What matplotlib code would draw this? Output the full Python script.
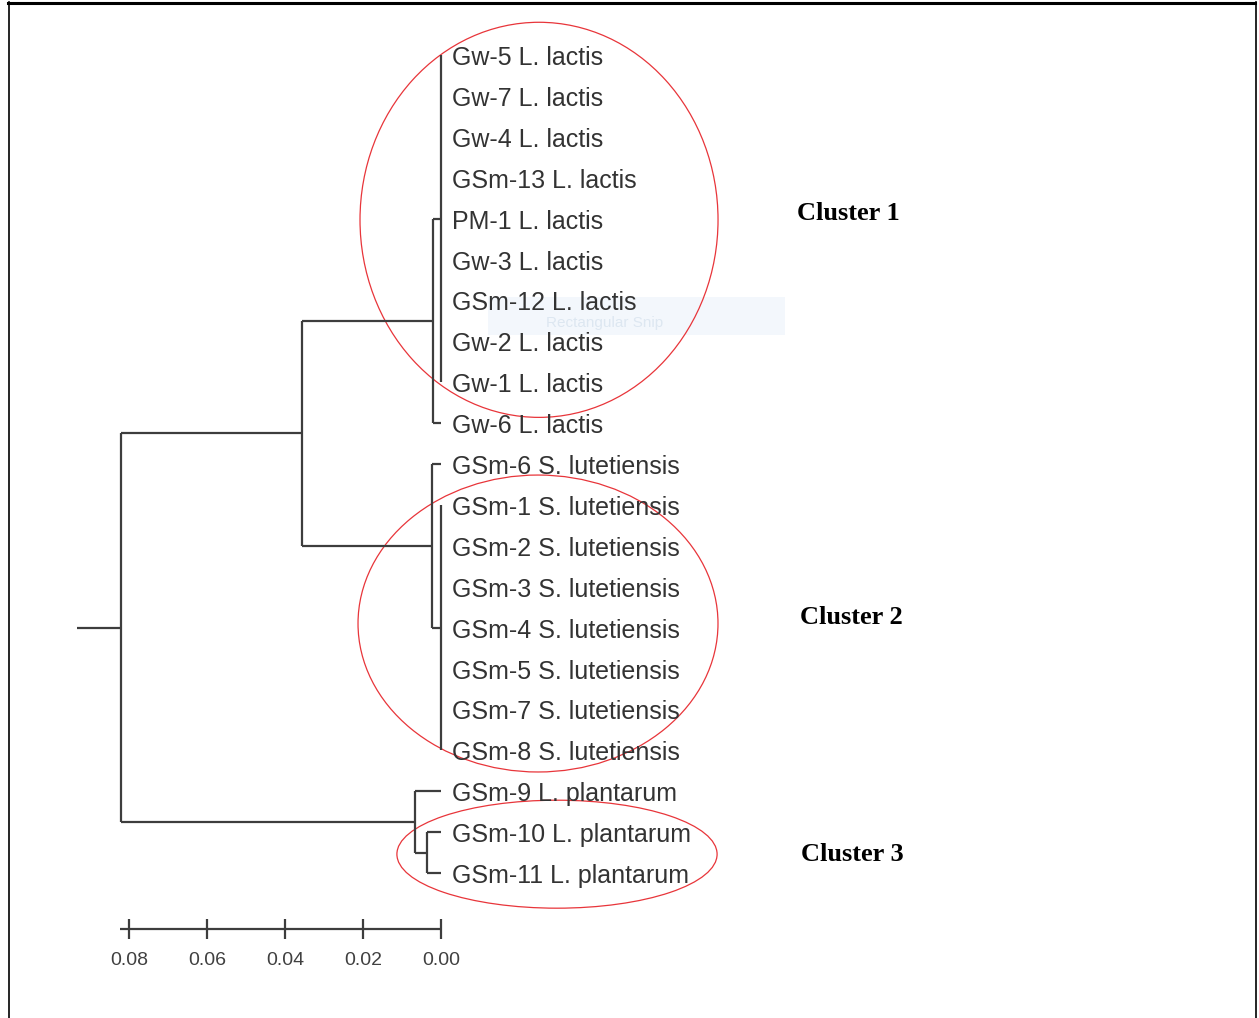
import matplotlib
matplotlib.use("Agg")
import matplotlib.pyplot as plt
from matplotlib.patches import Ellipse, Rectangle
from matplotlib import font_manager

# ---------------- data ----------------
leaf_labels = [
    "Gw-5 L. lactis", "Gw-7 L. lactis", "Gw-4 L. lactis", "GSm-13 L. lactis",
    "PM-1 L. lactis", "Gw-3 L. lactis", "GSm-12 L. lactis", "Gw-2 L. lactis",
    "Gw-1 L. lactis", "Gw-6 L. lactis",
    "GSm-6 S. lutetiensis", "GSm-1 S. lutetiensis", "GSm-2 S. lutetiensis",
    "GSm-3 S. lutetiensis", "GSm-4 S. lutetiensis", "GSm-5 S. lutetiensis",
    "GSm-7 S. lutetiensis", "GSm-8 S. lutetiensis",
    "GSm-9 L. plantarum", "GSm-10 L. plantarum", "GSm-11 L. plantarum",
]
n_leaves = len(leaf_labels)
# internal nodes: children (leaf index < 21, else node 21+k), merge height
merge_children = [
    [0, 1, 2, 3, 4, 5, 6, 7, 8],      # node 21
    [21, 9],                          # node 22
    [11, 12, 13, 14, 15, 16, 17],     # node 23
    [10, 23],                         # node 24
    [22, 24],                         # node 25
    [19, 20],                         # node 26
    [18, 26],                         # node 27
    [25, 27],                         # node 28 (root)
]
merge_heights = [0.0, 0.0021, 0.0, 0.0023, 0.0356, 0.0036, 0.0067, 0.0821]
root_stub = 0.0933
scale_ticks = [0.08, 0.06, 0.04, 0.02, 0.00]
scale_tick_labels = ["0.08", "0.06", "0.04", "0.02", "0.00"]
cluster_names = ["Cluster 1", "Cluster 2", "Cluster 3"]
cluster_label_pos = [(-0.0913, 3.87), (-0.0920, 13.76), (-0.0923, 19.55)]

# ---------------- figure ----------------
W, H = 1259, 1018
fig = plt.figure(figsize=(W / 100, H / 100), dpi=100)
ax = fig.add_axes([0, 0, 1, 1])
ax.set_xlim(0.11308, -0.20974)
ax.set_ylim(23.545, -1.3447)
ax.axis("off")

line_kw = dict(color="#3d3d3d", lw=1.6, solid_capstyle="butt")

# compute node positions
pos_y = {i: float(i) for i in range(n_leaves)}
pos_x = {i: 0.0 for i in range(n_leaves)}
for k, (ch, h) in enumerate(zip(merge_children, merge_heights)):
    nid = n_leaves + k
    ys = [pos_y[c] for c in ch]
    for c in ch:
        if pos_x[c] != h:
            ax.plot([pos_x[c], h], [pos_y[c], pos_y[c]], **line_kw)
    ax.plot([h, h], [min(ys), max(ys)], **line_kw)
    pos_y[nid] = (min(ys) + max(ys)) / 2
    pos_x[nid] = h
root = n_leaves + len(merge_children) - 1
ax.plot([pos_x[root], root_stub], [pos_y[root], pos_y[root]], **line_kw)

# leaf labels
for i, lab in enumerate(leaf_labels):
    ax.annotate(lab, (0, i), xytext=(11, -3), textcoords="offset pixels",
                ha="left", va="center", fontsize=18, color="#333333",
                family="Liberation Sans")

# faint snipping tool ghost
ax.add_patch(Rectangle((-0.0121, 5.92), -0.0761, 0.93, facecolor="#eef4fb",
                       edgecolor="none", alpha=0.7, zorder=0))
ax.text(-0.0268, 6.55, "Rectangular Snip", fontsize=11,
        color="#dde7f1", ha="left", va="center", family="Liberation Sans", zorder=0.5)

# ellipses
ell = [(-0.02513, 4.03, 0.0918, 9.66), (-0.02487, 13.90, 0.0923, 7.26),
       (-0.02974, 19.54, 0.0821, 2.64)]
for cx, cy, w, h in ell:
    ax.add_patch(Ellipse((cx, cy), w, h, fill=False, edgecolor="#e8353a", lw=0.9))

# cluster labels
for name, (x, y) in zip(cluster_names, cluster_label_pos):
    ax.text(x, y, name, fontsize=19, fontweight="bold", family="Liberation Serif",
            ha="left", va="center", color="black")

# scale bar
names = {f.name for f in font_manager.fontManager.ttflist}
tick_family = "Liberation Sans Narrow" if "Liberation Sans Narrow" in names else "Liberation Sans"
tick_size = 16 if tick_family == "Liberation Sans Narrow" else 14
sb_y = 21.37
ax.plot([0.0823, 0.0], [sb_y, sb_y], **line_kw)
for t, tl in zip(scale_ticks, scale_tick_labels):
    ax.plot([t, t], [sb_y - 0.245, sb_y + 0.245], **line_kw)
    ax.text(t, 22.13, tl, ha="center", va="center", fontsize=tick_size,
            color="#404040", family=tick_family)

# frame
fig.add_artist(plt.Line2D([8 / W, 1255 / W], [1 - 2.5 / H, 1 - 2.5 / H],
                          transform=fig.transFigure, color="black", lw=2.2))
fig.add_artist(plt.Line2D([8.5 / W, 8.5 / W], [0, 1 - 2 / H],
                          transform=fig.transFigure, color="black", lw=1.2))
fig.add_artist(plt.Line2D([1255.5 / W, 1255.5 / W], [0, 1 - 2 / H],
                          transform=fig.transFigure, color="black", lw=1.2))

fig.savefig("out.png", dpi=100)
